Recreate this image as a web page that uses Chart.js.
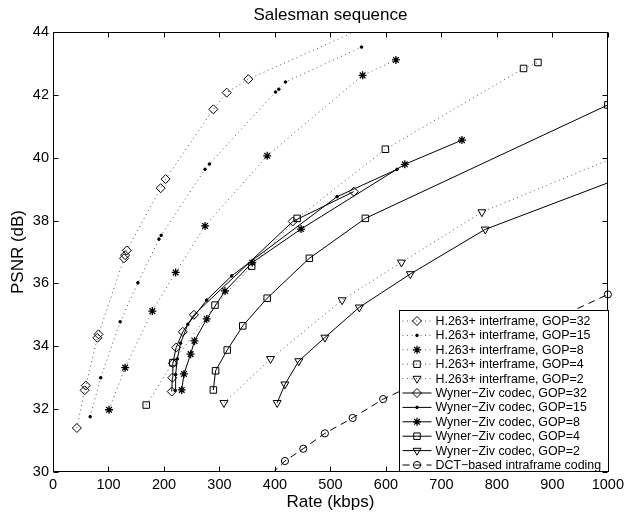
<!DOCTYPE html>
<html>
<head>
<meta charset="UTF-8">
<title>Salesman sequence</title>
<script src="https://cdn.jsdelivr.net/npm/chart.js@4.4.0/dist/chart.umd.min.js"></script>
<style>
    html, body { margin: 0; padding: 0; background: #fff; }
    #wrap { width: 628px; height: 516px; }
</style>
</head>
<body>
<div id="wrap"><canvas id="myChart" width="628" height="516"></canvas></div>
<script>
    // Rate (kbps) and PSNR (dB)
    const h263Gop32Rate = [43, 57, 59, 80, 82, 128, 130, 133, 194, 203, 289, 313, 352, 600];
    const h263Gop32Psnr = [31.4, 32.6, 32.75, 34.27, 34.38, 36.8, 36.9, 37.05, 39.03, 39.32, 41.54, 42.07, 42.5, 44.45];

    const h263Gop15Rate = [67, 86, 121, 153, 191, 195, 274, 282, 401, 407, 419, 556];
    const h263Gop15Psnr = [31.76, 33.0, 34.78, 36.02, 37.41, 37.53, 39.63, 39.8, 42.09, 42.18, 42.41, 43.52];

    const h263Gop8Rate = [101, 130, 179, 221, 274, 386, 558, 618];
    const h263Gop8Psnr = [31.98, 33.32, 35.12, 36.35, 37.83, 40.06, 42.62, 43.11];

    const h263Gop4Rate = [168, 216, 292, 358, 440, 599, 848, 874];
    const h263Gop4Psnr = [32.13, 33.48, 35.31, 36.55, 38.07, 40.27, 42.84, 43.03];

    const h263Gop2Rate = [308, 392, 521, 628, 773, 1080];
    const h263Gop2Psnr = [32.2, 33.6, 35.47, 36.67, 38.27, 40.5];

    const wzGop32Rate = [214, 215, 216, 222, 234, 254, 432, 542];
    const wzGop32Psnr = [32.56, 33.0, 33.46, 33.96, 34.46, 35.0, 37.97, 38.92];

    const wzGop15Rate = [220, 221, 224, 230, 243, 277, 322, 512, 620];
    const wzGop15Psnr = [32.6, 33.1, 33.6, 34.1, 34.7, 35.47, 36.24, 38.76, 39.63];

    const wzGop8Rate = [232, 236, 248, 255, 277, 310, 359, 447, 634, 737];
    const wzGop8Psnr = [32.61, 33.12, 33.75, 34.17, 34.87, 35.76, 36.66, 37.73, 39.79, 40.56];

    const wzGop4Rate = [289, 293, 314, 342, 386, 462, 563, 1000];
    const wzGop4Psnr = [32.61, 33.22, 33.88, 34.65, 35.53, 36.8, 38.07, 41.68];

    const wzGop2Rate = [404, 418, 443, 490, 552, 644, 779, 1100];
    const wzGop2Psnr = [32.2, 32.79, 33.53, 34.28, 35.24, 36.3, 37.72, 39.87];

    const dctRate = [380, 418, 451, 490, 540, 595, 1000];
    const dctPsnr = [29.7, 30.35, 30.74, 31.23, 31.72, 32.32, 35.65];

    const FONT = "'Liberation Sans', Arial, Helvetica, sans-serif";
    const dotted = [1, 3.5];
    const dashed = [7, 5];
    const none = 'rgba(0,0,0,0)';

    function pts(xs, ys) {
        return xs.map((v, i) => ({ x: v, y: ys[i] }));
    }

    function series(label, xs, ys, style, r, dash, extra) {
        return Object.assign({
            label: label,
            data: pts(xs, ys),
            borderColor: dash === dotted ? '#555' : '#000',
            borderWidth: 1,
            borderDash: dash,
            pointStyle: style,
            pointRadius: r,
            pointBorderColor: '#000',
            pointBackgroundColor: none,
            pointBorderWidth: 1,
            pointRotation: 0,
            tension: 0,
            fill: false
        }, extra || {});
    }

    const noClip = { left: 0, top: 0, right: 0, bottom: 0 };
    const datasets = [
        series('H.263+ interframe, GOP=32', h263Gop32Rate, h263Gop32Psnr, 'rectRot', 4.5, dotted, { clip: noClip }),
        series('H.263+ interframe, GOP=15', h263Gop15Rate, h263Gop15Psnr, 'circle', 1.3, dotted, { pointBackgroundColor: '#000' }),
        series('H.263+ interframe, GOP=8', h263Gop8Rate, h263Gop8Psnr, 'star', 4, dotted, { pointBorderWidth: 1.3 }),
        series('H.263+ interframe, GOP=4', h263Gop4Rate, h263Gop4Psnr, 'rect', 4.6, dotted),
        series('H.263+ interframe, GOP=2', h263Gop2Rate, h263Gop2Psnr, 'triangle', 4.6, dotted, { pointRotation: 180, clip: noClip }),
        series('Wyner\u2212Ziv codec, GOP=32', wzGop32Rate, wzGop32Psnr, 'rectRot', 4.5, []),
        series('Wyner\u2212Ziv codec, GOP=15', wzGop15Rate, wzGop15Psnr, 'circle', 1.3, [], { pointBackgroundColor: '#000' }),
        series('Wyner\u2212Ziv codec, GOP=8', wzGop8Rate, wzGop8Psnr, 'star', 4, [], { pointBorderWidth: 1.3 }),
        series('Wyner\u2212Ziv codec, GOP=4', wzGop4Rate, wzGop4Psnr, 'rect', 4.6, []),
        series('Wyner\u2212Ziv codec, GOP=2', wzGop2Rate, wzGop2Psnr, 'triangle', 4.6, [], { pointRotation: 180, clip: noClip }),
        series('DCT\u2212based intraframe coding', dctRate, dctPsnr, 'circle', 3.6, dashed, { clip: { left: 0, top: 0, right: 5, bottom: 0 } })
    ];

    // title, axes box with inward ticks, and the boxed legend
    const decor = {
        id: 'decor',
        afterDraw(chart) {
            const { ctx, chartArea: a, scales } = chart;
            const L = Math.round(a.left) + 0.5, R = Math.round(a.right) - 0.5;
            const T = Math.round(a.top) + 0.5, B = Math.round(a.bottom) - 0.5;
            ctx.save();

            ctx.fillStyle = '#000';
            ctx.font = '17px ' + FONT;
            ctx.textAlign = 'center';
            ctx.textBaseline = 'middle';
            ctx.fillText('Salesman sequence', (a.left + a.right) / 2, 15);

            ctx.strokeStyle = '#000';
            ctx.lineWidth = 1;
            ctx.setLineDash([]);
            ctx.strokeRect(L, T, R - L, B - T);
            const tl = 5;
            ctx.beginPath();
            scales.x.ticks.forEach(t => {
                const p = Math.round(scales.x.getPixelForValue(t.value)) + 0.5;
                ctx.moveTo(p, B); ctx.lineTo(p, B - tl);
                ctx.moveTo(p, T); ctx.lineTo(p, T + tl);
            });
            scales.y.ticks.forEach(t => {
                const p = Math.round(scales.y.getPixelForValue(t.value)) + 0.5;
                ctx.moveTo(L, p); ctx.lineTo(L + tl, p);
                ctx.moveTo(R, p); ctx.lineTo(R - tl, p);
            });
            ctx.stroke();

            // legend box
            const w = 209, h = 161;
            const x0 = Math.round(a.right - w) + 0.5, y0 = Math.round(a.bottom - 1 - h) + 0.5;
            ctx.fillStyle = '#fff';
            ctx.fillRect(x0, y0, w, h);
            ctx.strokeRect(x0, y0, w, h);
            ctx.font = '12.4px ' + FONT;
            ctx.textAlign = 'left';
            ctx.textBaseline = 'middle';
            chart.data.datasets.forEach((ds, i) => {
                const yy = y0 + 10.5 + i * 14.4;
                ctx.strokeStyle = ds.borderColor;
                ctx.lineWidth = 1;
                ctx.setLineDash(ds.borderDash);
                ctx.beginPath();
                ctx.moveTo(x0 + 3, yy);
                ctx.lineTo(x0 + 32, yy);
                ctx.stroke();
                ctx.setLineDash([]);
                ctx.fillStyle = ds.pointBackgroundColor;
                ctx.strokeStyle = ds.pointBorderColor;
                ctx.lineWidth = ds.pointBorderWidth;
                Chart.helpers.drawPoint(ctx, {
                    pointStyle: ds.pointStyle,
                    radius: ds.pointRadius,
                    rotation: ds.pointRotation,
                    borderWidth: ds.pointBorderWidth
                }, x0 + 17.5, yy);
                ctx.fillStyle = '#000';
                ctx.fillText(ds.label, x0 + 36, yy + 0.5);
            });
            ctx.restore();
        }
    };

    const ctx = document.getElementById('myChart').getContext('2d');
    const chart = new Chart(ctx, {
        type: 'line',
        data: { datasets: datasets },
        options: {
            responsive: false,
            animation: false,
            devicePixelRatio: 1,
            events: [],
            layout: { padding: { top: 32, right: 15, bottom: 0, left: 0 } },
            scales: {
                x: {
                    type: 'linear',
                    min: 0,
                    max: 1000,
                    grid: { display: false, drawTicks: false },
                    border: { display: false },
                    ticks: {
                        stepSize: 100, color: '#000', padding: 4,
                        font: { family: FONT, size: 14.5 },
                        callback: v => String(v)
                    },
                    title: { display: true, text: 'Rate (kbps)', color: '#000', font: { family: FONT, size: 17 }, padding: { top: 0, bottom: 3 } },
                    afterFit: s => { s.height = 44; }
                },
                y: {
                    min: 30,
                    max: 44,
                    grid: { display: false, drawTicks: false },
                    border: { display: false },
                    ticks: { stepSize: 2, color: '#000', padding: 4, font: { family: FONT, size: 14.5 } },
                    title: { display: true, text: 'PSNR (dB)', color: '#000', font: { family: FONT, size: 17 }, padding: { top: 8, bottom: 0 } },
                    afterFit: s => { s.width = 53; }
                }
            },
            plugins: {
                legend: { display: false },
                title: { display: false },
                tooltip: { enabled: false }
            }
        },
        plugins: [decor]
    });
</script>
</body>
</html>
